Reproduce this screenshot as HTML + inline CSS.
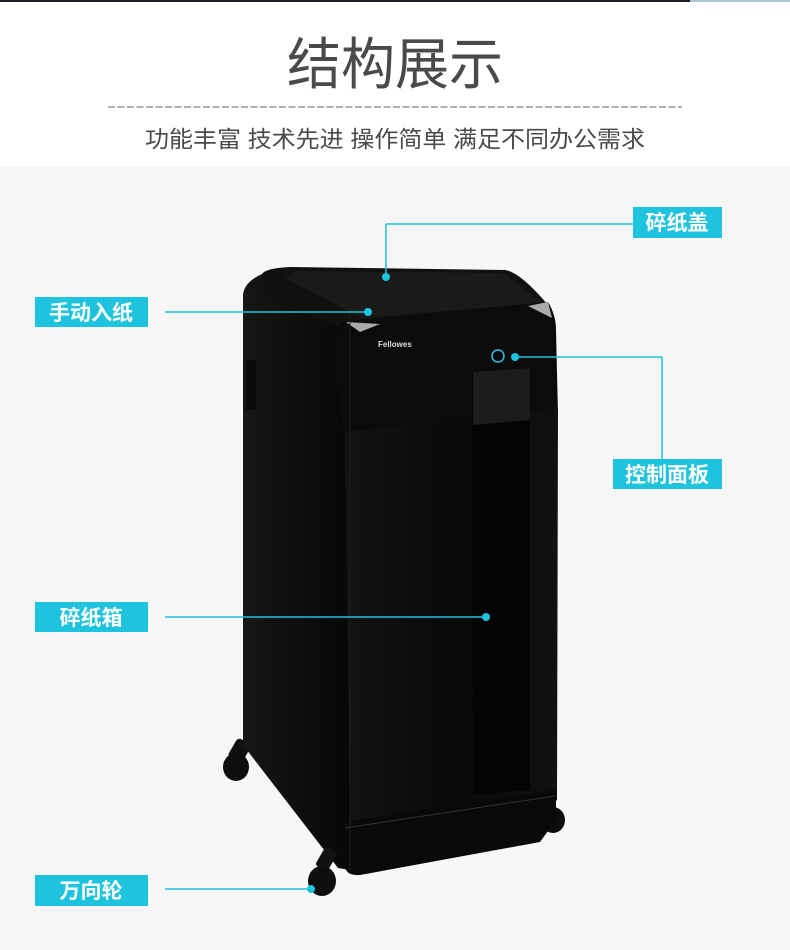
<!DOCTYPE html>
<html><head><meta charset="utf-8"><style>
html,body{margin:0;padding:0;}
body{width:790px;height:945px;overflow:hidden;background:#f7f7f7;font-family:"Liberation Sans","Noto Sans CJK SC",sans-serif;}
</style></head><body>
<svg width="790" height="945" viewBox="0 0 790 945" xmlns="http://www.w3.org/2000/svg">
<defs>
<linearGradient id="side" x1="0" x2="1"><stop offset="0" stop-color="#161616"/><stop offset="1" stop-color="#070707"/></linearGradient>
<linearGradient id="front" x1="0" x2="1"><stop offset="0" stop-color="#131313"/><stop offset="0.5" stop-color="#090909"/><stop offset="1" stop-color="#111"/></linearGradient>
</defs>
<rect x="0" y="0" width="790" height="167" fill="#fff"/>
<rect x="0" y="0" width="690" height="2" fill="#1c1f28"/>
<rect x="690" y="0" width="100" height="2" fill="#a9c3d3"/>
<text x="395" y="84" text-anchor="middle" font-size="56" fill="#4a4a4a" font-family="'Liberation Sans','Noto Sans CJK SC',sans-serif" textLength="216" lengthAdjust="spacingAndGlyphs">结构展示</text>
<line x1="108" y1="107" x2="682" y2="107" stroke="#666" stroke-width="1" stroke-dasharray="7,2.5"/>
<text x="395" y="147" text-anchor="middle" font-size="23" fill="#4a4a4a" font-family="'Liberation Sans','Noto Sans CJK SC',sans-serif" textLength="500" lengthAdjust="spacingAndGlyphs">功能丰富 技术先进 操作简单 满足不同办公需求</text>

<!-- wheels back -->
<rect x="232" y="740" width="16" height="22" rx="4" fill="#111" transform="rotate(30 240 750)"/>
<ellipse cx="236" cy="767" rx="13" ry="14" fill="#0e0e0e"/>
<ellipse cx="553" cy="820" rx="12" ry="13" fill="#0e0e0e"/>
<!-- left side -->
<path d="M243 295 Q244 282 262 274 L350 282 L350 870 L338 868 L243 745 Z" fill="url(#side)"/>
<!-- top -->
<path d="M262 274 Q266 268 290 267 L505 270 Q520 272 548 305 L552 330 L350 330 L268 300 Z" fill="#111"/>
<path d="M285 278 L295 271 L503 273 L543 303 L362 318 Z" fill="#1a1a1a"/>
<!-- hood front -->
<path d="M340 322 L548 302 Q556 315 556 330 L558 415 L345 438 Q335 380 335 345 Z" fill="#0b0b0b"/>
<path d="M346 322 L380 324 L360 332 Z" fill="#aaa"/>
<path d="M528 306 L548 302 L552 318 Z" fill="#aaa"/>
<!-- front lower -->
<path d="M345 432 L558 408 L557 800 L540 812 L350 835 Z" fill="url(#front)"/>
<path d="M472 372 L530 368 L530 790 L473 795 Z" fill="#040404"/>
<path d="M473 372 L530 368 L530 420 L473 425 Z" fill="#1c1c1c"/>
<!-- base -->
<path d="M345 822 L556 790 L556 820 L540 842 L360 875 Q345 876 345 865 Z" fill="#090909"/>
<line x1="345" y1="828" x2="555" y2="796" stroke="#333" stroke-width="1"/>
<line x1="350" y1="282" x2="350" y2="870" stroke="#1e1e1e" stroke-width="1"/>
<rect x="246" y="360" width="10" height="50" fill="#0a0a0a"/>
<text x="378" y="347" font-size="8" fill="#ddd" font-family="'Liberation Sans',sans-serif" font-weight="bold">Fellowes</text>
<circle cx="498" cy="356" r="6" fill="none" stroke="#2bc3e0" stroke-width="1.5"/>
<!-- front wheel -->
<rect x="320" y="848" width="14" height="22" rx="3" fill="#111" transform="rotate(30 327 858)"/>
<ellipse cx="322" cy="881" rx="14" ry="15" fill="#0e0e0e"/>

<!-- callouts -->
<g fill="#1ec3de" stroke="#1ec3de">
<line x1="633" y1="224" x2="386" y2="224" stroke-width="1.5"/>
<line x1="386" y1="224" x2="386" y2="277" stroke-width="1.5"/>
<circle cx="386" cy="277" r="4" stroke="none"/>
<line x1="165" y1="312" x2="368" y2="312" stroke-width="1.5"/>
<circle cx="368" cy="312" r="4" stroke="none"/>
<line x1="515" y1="357" x2="662" y2="357" stroke-width="1.5"/>
<line x1="662" y1="357" x2="662" y2="459" stroke-width="1.5"/>
<circle cx="515" cy="357" r="4" stroke="none"/>
<line x1="165" y1="617" x2="486" y2="617" stroke-width="1.5"/>
<circle cx="486" cy="617" r="4" stroke="none"/>
<line x1="165" y1="889" x2="311" y2="889" stroke-width="1.5"/>
<circle cx="311" cy="889" r="4" stroke="none"/>
</g>
<g fill="#1ec3de">
<rect x="633" y="207" width="89" height="31"/>
<rect x="35" y="297" width="113" height="30"/>
<rect x="613" y="459" width="109" height="30"/>
<rect x="35" y="602" width="113" height="30"/>
<rect x="35" y="875" width="113" height="31"/>
</g>
<g fill="#fff" font-size="21" font-weight="bold" text-anchor="middle" font-family="'Liberation Sans','Noto Sans CJK SC',sans-serif">
<text x="677" y="230">碎纸盖</text>
<text x="91" y="320">手动入纸</text>
<text x="667" y="482">控制面板</text>
<text x="91" y="625">碎纸箱</text>
<text x="91" y="898">万向轮</text>
</g>
</svg>
</body></html>
